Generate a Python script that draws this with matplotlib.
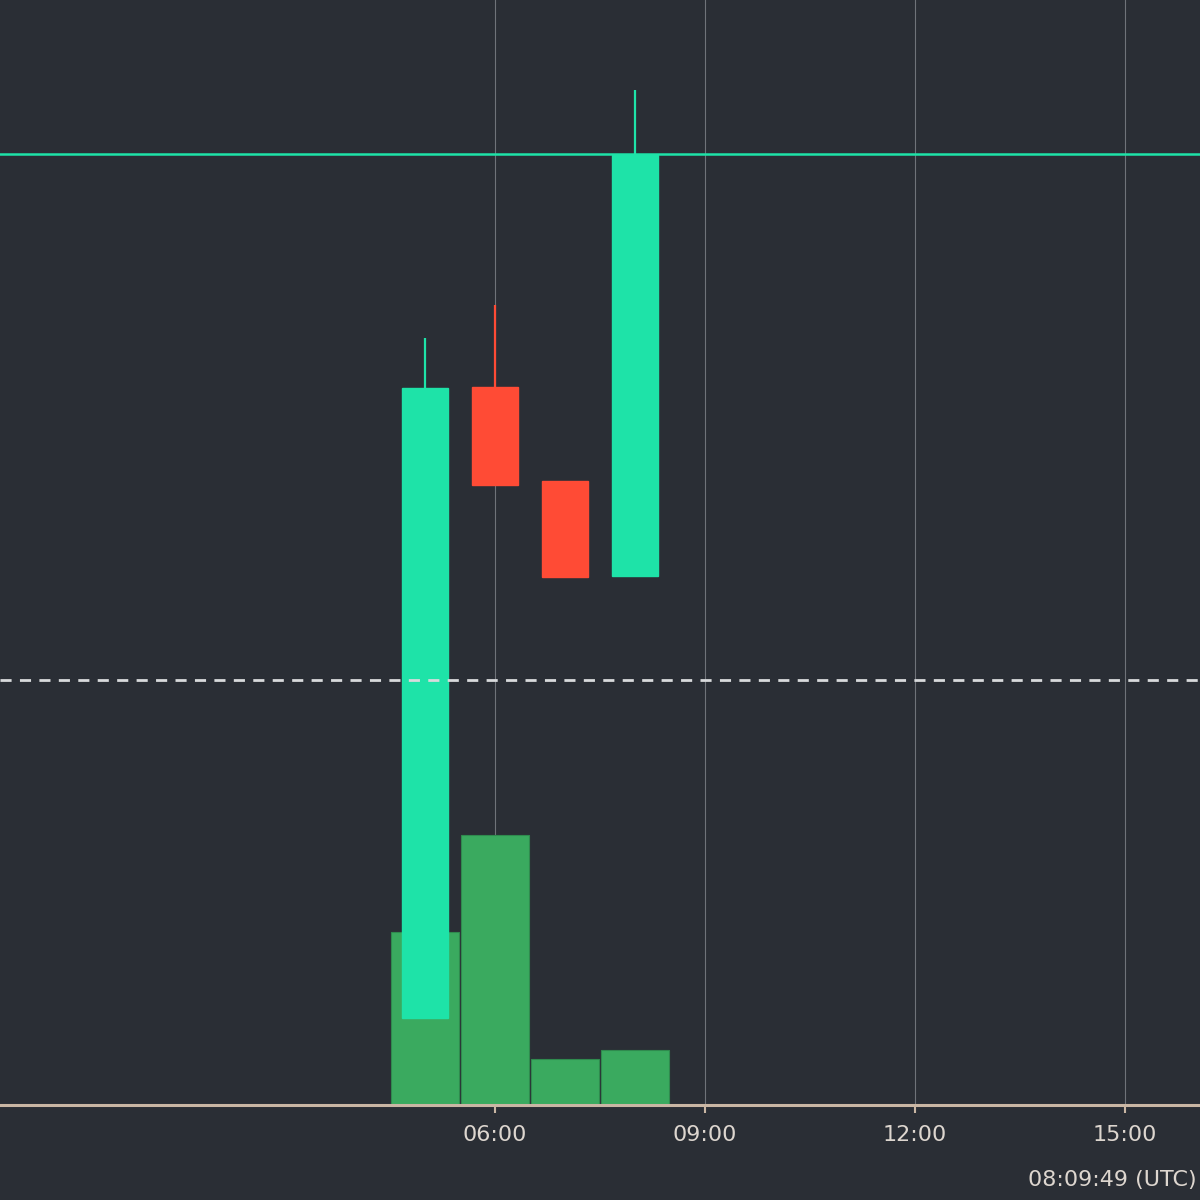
import matplotlib
matplotlib.use("Agg")
import matplotlib.pyplot as plt
from matplotlib.ticker import FixedLocator, FuncFormatter

# Hourly candles (x in hours of the day)
hours = [5, 6, 7, 8]
opens = [108.7, 171.8, 162.4, 152.9]
closes = [171.7, 162.0, 152.8, 195.0]
highs = [176.7, 180.0, 162.4, 201.5]
lows = [108.7, 162.0, 152.8, 152.9]
volumes = [17.3, 27.0, 4.6, 5.5]

last_price = 195.1
dashed_level = 142.5
tick_hours = [6, 9, 12, 15]
clock_text = "08:09:49 (UTC)"

bg = "#2a2e35"
up_col = "#1ee3a8"
down_col = "#ff4b35"
vol_col = "#3aaa5f"

fig = plt.figure(figsize=(12, 12), dpi=100, facecolor=bg)
ax = fig.add_axes([0, 0.079, 1, 0.921], facecolor=bg)

# volume on the lower layer
ax.bar(hours, volumes, width=0.97, color=vol_col, edgecolor="#2f8a4e",
       linewidth=0.8, zorder=2)
ax.set_ylim(0, 110.5)
ax.set_xlim(-1.07, 16.07)

# price on top
ax2 = ax.twinx()
for h, o, c, hi, lo in zip(hours, opens, closes, highs, lows):
    col = up_col if c >= o else down_col
    ax2.vlines(h, lo, hi, color=col, linewidth=1.6, zorder=3)
    ax2.bar(h, abs(c - o), bottom=min(o, c), width=0.66, color=col,
            edgecolor=col, linewidth=1, zorder=4)
ax2.axhline(last_price, color=up_col, linewidth=1.8, zorder=5)
ax2.axhline(dashed_level, color="#d8dadc", linewidth=2, linestyle=(0, (4, 3)),
            zorder=5)
ax2.set_ylim(100, 210.5)
ax2.set_xlim(-1.07, 16.07)

# grid and axes cosmetics
for h in tick_hours:
    ax.axvline(h, color="#6f7379", linewidth=0.8, zorder=1)

for a in (ax, ax2):
    for s in ("top", "left", "right"):
        a.spines[s].set_visible(False)
    a.set_yticks([])
ax2.spines["bottom"].set_visible(False)
ax.spines["bottom"].set_color("#c9b6a4")
ax.spines["bottom"].set_linewidth(2.2)

ax.xaxis.set_major_locator(FixedLocator(tick_hours))
ax.xaxis.set_major_formatter(FuncFormatter(lambda v, p: "%02d:00" % v))
ax.tick_params(axis="x", colors="#c9b6a4", length=6, width=1.5,
               labelcolor="#ddd6cf", labelsize=16, pad=8)
for lbl in ax.get_xticklabels():
    lbl.set_fontweight("medium")
ax2.tick_params(axis="x", bottom=False, labelbottom=False)

fig.text(0.997, 0.008, clock_text, color="#ddd6cf", fontsize=16,
         ha="right", va="bottom")

fig.savefig("out.png", facecolor=bg)
